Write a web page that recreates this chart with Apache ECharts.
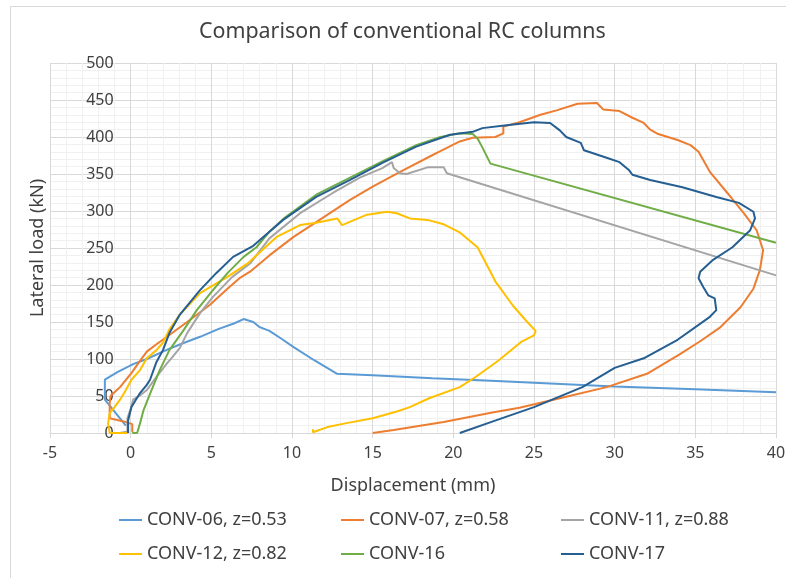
<!DOCTYPE html>
<html>
<head>
<meta charset="utf-8">
<script src="https://cdn.jsdelivr.net/npm/echarts@6/dist/echarts.min.js"></script>
<style>
html,body{margin:0;padding:0;background:#fff;}
#chart{width:786px;height:578px;}
</style>
</head>
<body>
<div id="chart"></div>
<script>
// ---- data (displacement mm, lateral load kN) ----
var seriesNames = ['CONV-06, z=0.53', 'CONV-07, z=0.58', 'CONV-11, z=0.88', 'CONV-12, z=0.82', 'CONV-16', 'CONV-17'];
var xTicks = [-5, 0, 5, 10, 15, 20, 25, 30, 35, 40];
var yTicks = [0, 50, 100, 150, 200, 250, 300, 350, 400, 450, 500];

var conv06 = [[-0.3,10],[-1.6,45],[-1.6,72],[-0.85,82],[0.15,93],[1.0,100],[2.2,112],[3.2,121],[4.3,130],[5.5,141],[6.4,148],[7.0,154],[7.6,150],[8.0,143],[8.6,138],[9.3,128],[10.1,116],[11.4,98],[12.8,80],[15,78],[18.7,74],[22,71],[25,68],[30,63],[35,59],[40,55]];

var conv07 = [[0.1,1],[0.1,12],[-0.5,16],[-1.3,20],[-1.3,40],[-1.25,50],[-0.66,62],[0.08,82],[0.5,95],[1.0,110],[1.6,120],[2.25,130],[3.5,150],[4.9,173],[6.0,195],[6.8,210],[7.4,218],[8.6,240],[10.1,265],[11.5,285],[13.6,315],[15.0,333],[16.7,353],[18.75,376],[19.2,381],[20.4,394],[21.2,399],[22.6,400],[23.1,405],[23.1,414],[24.1,420],[25.4,430],[26.4,436],[27.7,445],[28.9,446],[29.3,437],[30.3,435],[31.1,426],[31.8,419],[32.2,410],[32.7,404],[33.9,396],[34.7,389],[35.2,380],[35.9,353],[37.0,324],[38.0,297],[38.8,274],[39.2,247],[39.0,220],[38.6,195],[37.8,170],[36.5,142],[35.3,124],[34.0,106],[32.0,80],[29.5,62],[26.8,48],[24.1,34],[22.5,28],[19.4,15],[16.3,4],[15.0,0]];

var conv11 = [[-0.66,0],[-0.2,2],[-0.2,20],[0.0,33],[0.15,45],[0.6,51],[1.0,58],[1.6,76],[2.25,94],[2.6,103],[3.05,115],[3.5,135],[4.3,162],[5.1,184],[6.3,211],[7.4,229],[8.6,263],[10.5,297],[12.5,324],[14.2,345],[15.6,358],[16.2,366],[16.3,358],[16.7,351],[17.1,350],[18.4,359],[19.4,359],[19.6,351],[40,213]];

var conv12 = [[-0.2,0],[-1.3,0],[-1.4,13],[-1.3,27],[-1.0,35],[-0.66,45],[-0.35,56],[0.05,72],[0.58,85],[1.0,101],[1.6,112],[2.0,122],[2.4,140],[3.05,160],[4.3,189],[6.0,211],[7.3,230],[8.6,256],[9.05,265],[10.5,281],[11.5,284],[12.8,290],[13.1,281],[14.65,295],[15.9,299],[16.5,297],[17.3,290],[18.4,288],[19.4,282],[20.4,271],[21.5,251],[22.2,222],[22.6,205],[23.7,172],[24.5,152],[25.1,138],[25.0,132],[24.2,123],[22.8,98],[21.4,76],[20.4,62],[18.5,47],[17.3,35],[16.5,29],[15.0,20],[13.3,13],[12.2,8],[11.3,1],[11.3,5]];

var conv16 = [[0.1,0],[0.4,0],[0.58,13],[0.8,31],[1.2,53],[1.8,85],[2.4,112],[3.25,138],[4.1,166],[5.1,193],[6.0,216],[7.0,238],[7.8,251],[8.6,272],[9.5,290],[11.5,322],[13.6,345],[15.6,367],[17.7,389],[19.2,400],[20.4,405],[21.2,404],[21.5,398],[21.8,386],[22.3,364],[40,257]];

var conv17 = [[-0.16,0],[-0.16,17],[0.05,35],[0.58,54],[1.0,65],[1.2,72],[1.6,96],[2.0,112],[2.4,135],[3.05,160],[4.3,193],[5.3,216],[6.35,238],[7.6,253],[8.6,272],[9.45,288],[11.5,319],[13.6,342],[15.6,365],[17.7,387],[19.8,403],[21.2,407],[21.8,412],[23.3,416],[25.0,420],[26.0,419],[26.6,409],[27.0,400],[27.9,392],[28.1,382],[29.5,372],[30.3,366],[30.9,355],[31.1,349],[32.2,342],[34.2,332],[36.3,319],[37.7,311],[38.6,299],[38.7,290],[38.4,274],[37.3,251],[36.1,234],[35.3,218],[35.2,209],[35.5,197],[35.8,186],[36.2,182],[36.3,166],[35.9,157],[33.9,126],[31.8,101],[30.0,88],[28.0,62],[25.0,35],[22.5,16],[20.4,0]];

var allData = [conv06, conv07, conv11, conv12, conv16, conv17];
var colors = ['#5B9BD5', '#ED7D31', '#A5A5A5', '#FFC000', '#70AD47', '#255E91'];

var FONT = 'Noto Sans';
var TXT = '#404040';

var legendPos = [[119,511],[341,511],[561,511],[119,545],[341,545],[561,545]];
var legends = seriesNames.map(function (n, i) {
  return {
    data: [{ name: n, icon: 'rect' }], left: legendPos[i][0], top: legendPos[i][1],
    itemWidth: 23, itemHeight: 2, itemGap: 0, padding: 0,
    textStyle: { fontFamily: FONT, fontSize: 18, color: TXT }
  };
});

var series = seriesNames.map(function (n, i) {
  return {
    name: n, type: 'line', data: allData[i], symbol: 'none', smooth: false,
    lineStyle: { width: 2, color: colors[i] }, itemStyle: { color: colors[i] },
    animation: false
  };
});

var chart = echarts.init(document.getElementById('chart'), null, { renderer: 'canvas' });
chart.setOption({
  backgroundColor: '#fff',
  animation: false,
  title: {
    text: 'Comparison of conventional RC columns',
    left: 194, top: 16,
    textStyle: { fontFamily: FONT, fontSize: 21.4, fontWeight: 'normal', color: TXT }
  },
  graphic: [{ type: 'rect', left: 8, top: 4, shape: { width: 800, height: 600 }, style: { fill: 'none', stroke: '#D9D9D9', lineWidth: 1 }, silent: true }],
  legend: legends,
  grid: { left: 50, right: 10, top: 63, bottom: 145, outerBoundsMode: 'none', containLabel: false },
  xAxis: {
    type: 'value', min: xTicks[0], max: xTicks[xTicks.length - 1], interval: 5,
    name: 'Displacement (mm)', nameLocation: 'middle', nameGap: 44, nameMoveOverlap: false,
    nameTextStyle: { fontFamily: FONT, fontSize: 18, color: TXT },
    axisLine: { show: true, onZero: false, lineStyle: { color: '#D9D9D9' } },
    axisTick: { show: true, length: 5, lineStyle: { color: '#D9D9D9' } },
    axisLabel: { fontFamily: FONT, fontSize: 16, color: TXT, margin: 12 },
    splitLine: { show: true, lineStyle: { color: '#D9D9D9' } },
    minorTick: { show: false, splitNumber: 5 },
    minorSplitLine: { show: true, lineStyle: { color: '#F0F0F0' } }
  },
  yAxis: {
    type: 'value', min: yTicks[0], max: yTicks[yTicks.length - 1], interval: 50,
    offset: -80.67,
    name: 'Lateral load (kN)', nameLocation: 'middle', nameGap: 84, nameMoveOverlap: false,
    nameTextStyle: { fontFamily: FONT, fontSize: 18, color: TXT },
    axisLine: { show: false, onZero: false },
    axisTick: { show: false },
    axisLabel: { fontFamily: FONT, fontSize: 16, color: TXT, margin: 17 },
    splitLine: { show: true, lineStyle: { color: '#D9D9D9' } },
    minorTick: { show: false, splitNumber: 5 },
    minorSplitLine: { show: true, lineStyle: { color: '#F0F0F0' } }
  },
  series: series
});
</script>
</body>
</html>
